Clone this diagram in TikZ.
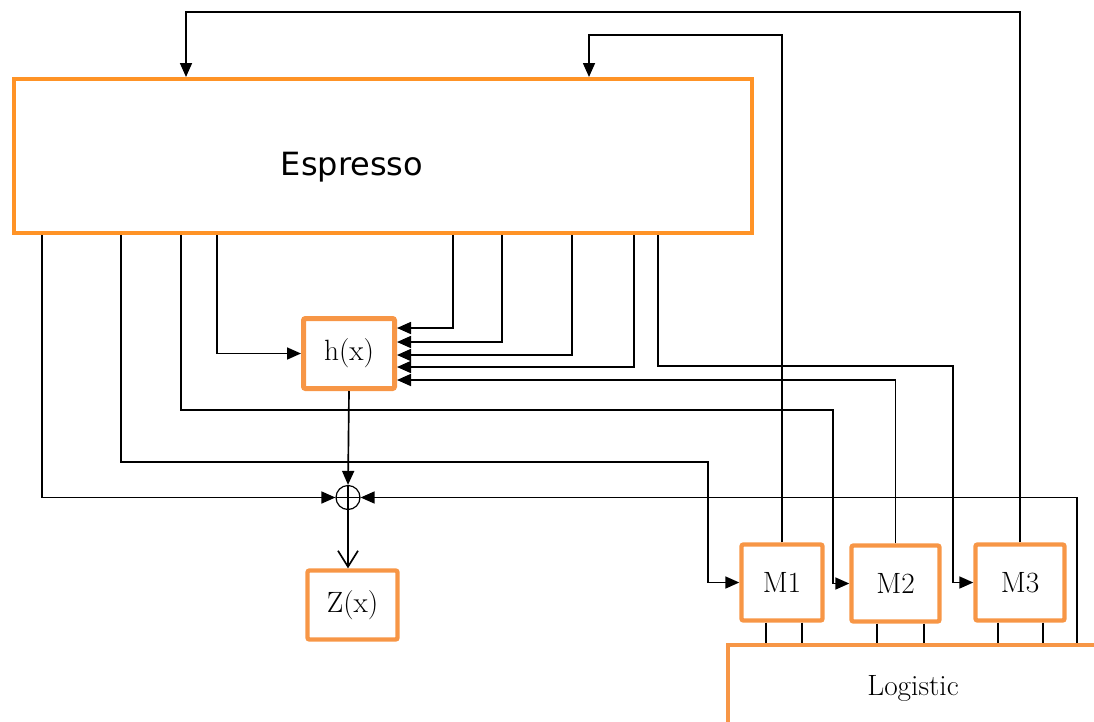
\documentclass[tikz,border=0pt]{standalone}
\usepackage{fontspec}
\newfontfamily\espfont{DejaVu Sans}
\usepackage{xcolor}
\usetikzlibrary{arrows.meta,positioning,calc}
\definecolor{boxorange}{RGB}{247,150,70}
\definecolor{esporange}{RGB}{255,147,38}

\begin{document}
\begin{tikzpicture}[x=0.75pt,y=-0.75pt,
  wire/.style={line width=1.25pt},
  arr/.style={wire,-{Triangle[length=10.5pt,width=9pt]}},
  blk/.style={draw=boxorange,line width=3.3pt,rounded corners=1.5pt,inner sep=0pt,
    minimum height=57pt,font=\fontsize{22}{26}\selectfont},
  sumnode/.style={circle,draw,line width=0.9pt,minimum size=18pt,inner sep=0pt,
    path picture={\draw[line width=0.9pt] (path picture bounding box.north) -- (path picture bounding box.south)
      (path picture bounding box.west) -- (path picture bounding box.east);}}]
  \useasboundingbox (0,0) rectangle (1094,721);
  \clip (0,0) rectangle (1094,721);

  \node[draw=esporange,line width=3pt,minimum width=553.5pt,minimum height=115.5pt] (esp) at (383,156) {};
  \node[font=\espfont\fontsize{24}{28}\selectfont] (esplabel) at (352,167) {Espresso};
  \node[blk,minimum width=68.25pt,minimum height=52.5pt,line width=3.75pt] (h) at (349,353.5) {h(x)};
  \node[sumnode] (sum) at (348,497.5) {};
  \node[blk,minimum width=67.5pt,minimum height=51.75pt] (z) at (352.5,605) {Z(x)};
  \node[blk,minimum width=60.75pt] (m1) at (782,582.5) {M1};
  \node[blk,minimum width=66pt] (m2) at (895.5,583.5) {M2};
  \node[blk,minimum width=66.75pt] (m3) at (1020,582.5) {M3};
  \node[blk,rounded corners=0pt,minimum width=277.5pt,minimum height=64.5pt] (logi) at (913,688) {Logistic};

  \draw[arr] (m3.north) -- (m3.north |- 0,12) -| (esp.north -| 186,0);
  \draw[arr] (m1.north) -- (m1.north |- 0,35) -| (esp.north -| 589,0);

  \draw[arr] (42,0 |- esp.south) |- (sum.west);
  \draw[arr] (121,0 |- esp.south) -- (121,462) -- (708,462) |- (m1.west);
  \draw[arr] (181,0 |- esp.south) -- (181,410) -- (833,410) |- (m2.west);
  \draw[arr] (658,0 |- esp.south) -- (658,366) -- (953,366) |- (m3.west);
  \draw[arr] (217,0 |- esp.south) |- (h.west);
  \foreach \sx/\ay in {453/328, 502/342, 572/355, 634/367}
    \draw[arr] (\sx,0 |- esp.south) |- (h.east |- 0,\ay);
  \draw[arr] (m2.north) |- (h.east |- 0,380);

  \draw[arr] (h.south) -- (sum.north);
  \draw[arr] (1077,0 |- logi.north) |- (sum.east);
  \draw[wire,-{Straight Barb[length=12pt,width=15pt]}] (sum.south) -- (sum.south |- z.north);

  \foreach \mx/\mb in {766/m1, 802/m1, 877/m2, 924/m2, 998/m3, 1043/m3}
    \draw[wire] (\mx,0 |- \mb.south) -- (\mx,0 |- logi.north);
\end{tikzpicture}
\end{document}
